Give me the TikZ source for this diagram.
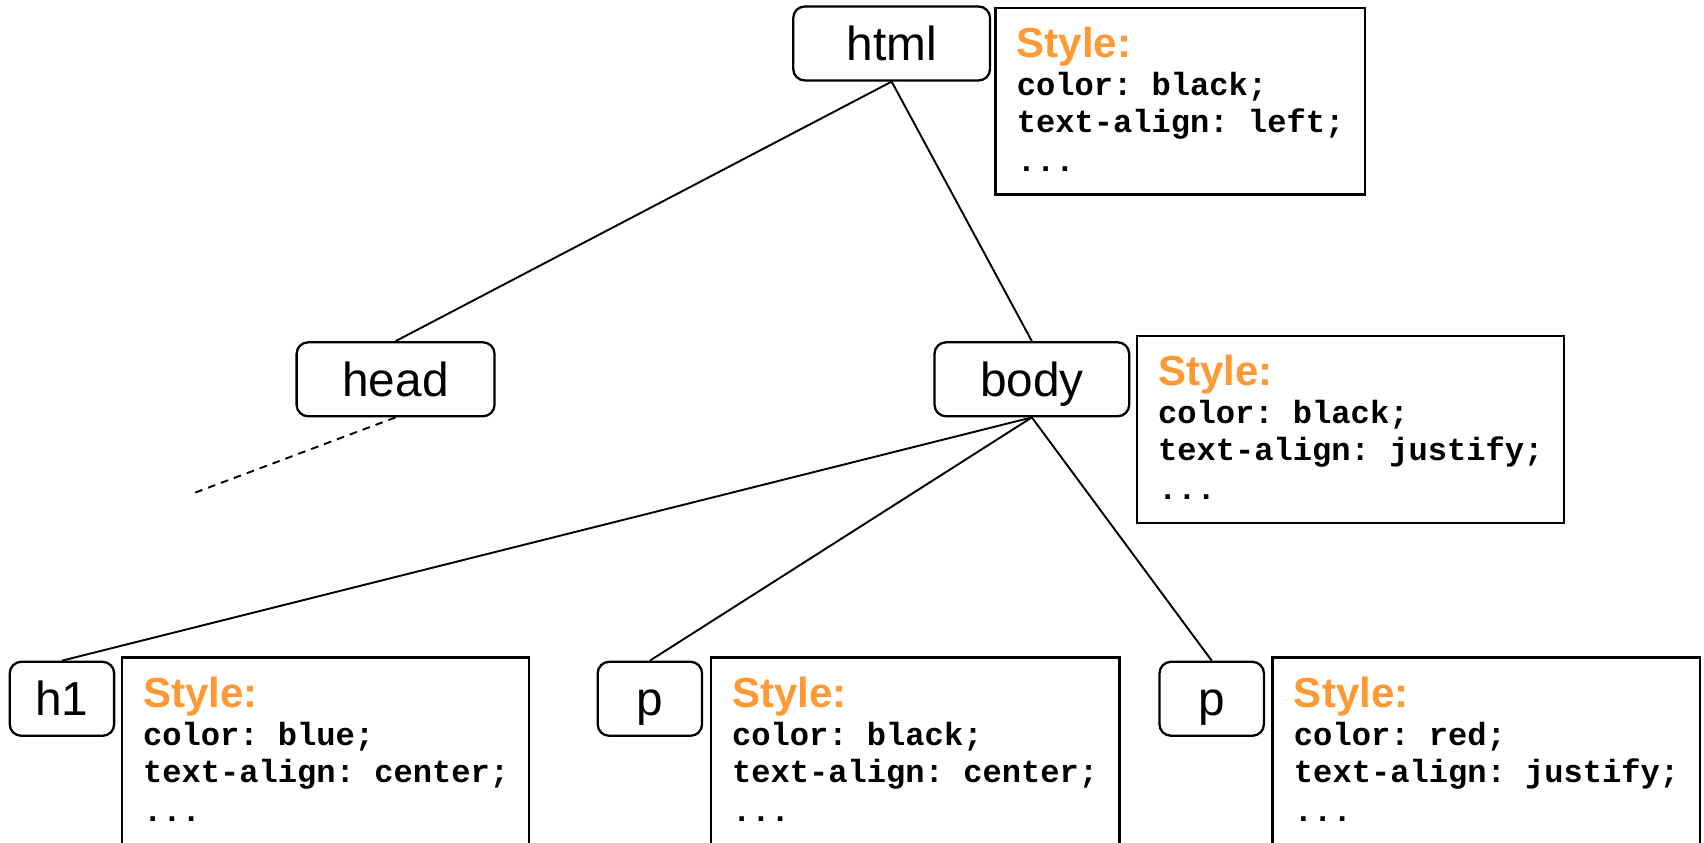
\documentclass[tikz,border=0pt]{standalone}
\usepackage{fontspec}
\setmainfont{Liberation Sans}
\setmonofont{Liberation Mono}
\usepackage{tikz}
\definecolor{cssorange}{RGB}{255,153,51}

\begin{document}
\begin{tikzpicture}[x=0.01cm, y=0.01cm,
		tag/.style={draw, line width=.6pt, rounded corners=3pt, inner sep=0pt, minimum height=0.68cm, text height=9pt, text depth=0pt, font=\fontsize{12.5}{15}\selectfont},
		cssbox/.style={draw, line width=.6pt, anchor=north west, inner sep=0pt},
		code/.style={anchor=base west, inner sep=0pt, font=\ttfamily\bfseries\fontsize{8.4}{10}\selectfont},
		edge/.style={line width=.5pt}]
				\useasboundingbox (0,0) rectangle (1568,-775.7);
				\node[tag, minimum width=1.81cm] (html) at (820.5,-40) {html};
				\node[tag, minimum width=1.82cm] (head) at (364,-349) {head};
				\node[tag, minimum width=1.79cm] (body) at (949.5,-349) {body};
				\node[tag, minimum width=0.96cm] (h1) at (57,-643) {h1};
				\node[tag, minimum width=0.96cm] (pa) at (598,-643) {p};
				\node[tag, minimum width=0.96cm] (pb) at (1115,-643) {p};
				\coordinate (more) at (175,-455);
				\foreach \s in {head, body}
					\draw[edge] (html.south) -- (\s.north);
				\foreach \s in {h1, pa, pb}
					\draw[edge] (body.south) -- (\s.north);
				\draw[edge, dash pattern=on 2pt off 1.6pt] (head.south) -- (more);
				\foreach \n/\x/\y/\w/\h/\c/\a in {htmlcss/915/-6/340/172/black/left, bodycss/1045/-308/393/172/black/justify, hcss/111/-604/375/240/blue/center, pacss/653/-604/376/240/black/center, pbcss/1170/-604/393/240/red/justify} {
					\node[cssbox, minimum width=\w*0.01cm, minimum height=\h*0.01cm] (\n) at (\x,\y) {};
					\node[anchor=base west, inner sep=0pt, text=cssorange, font=\bfseries\fontsize{11}{13}\selectfont] (\n-t) at ([shift={(20,-47)}]\n.north west) {Style:};
					\node[code] (\n-a) at ([shift={(20,-82)}]\n.north west) {color: \c;};
					\node[code] (\n-b) at ([shift={(20,-116)}]\n.north west) {text-align: \a;};
					\node[code] (\n-c) at ([shift={(20,-152)}]\n.north west) {...};
				}
			\end{tikzpicture}
\end{document}
